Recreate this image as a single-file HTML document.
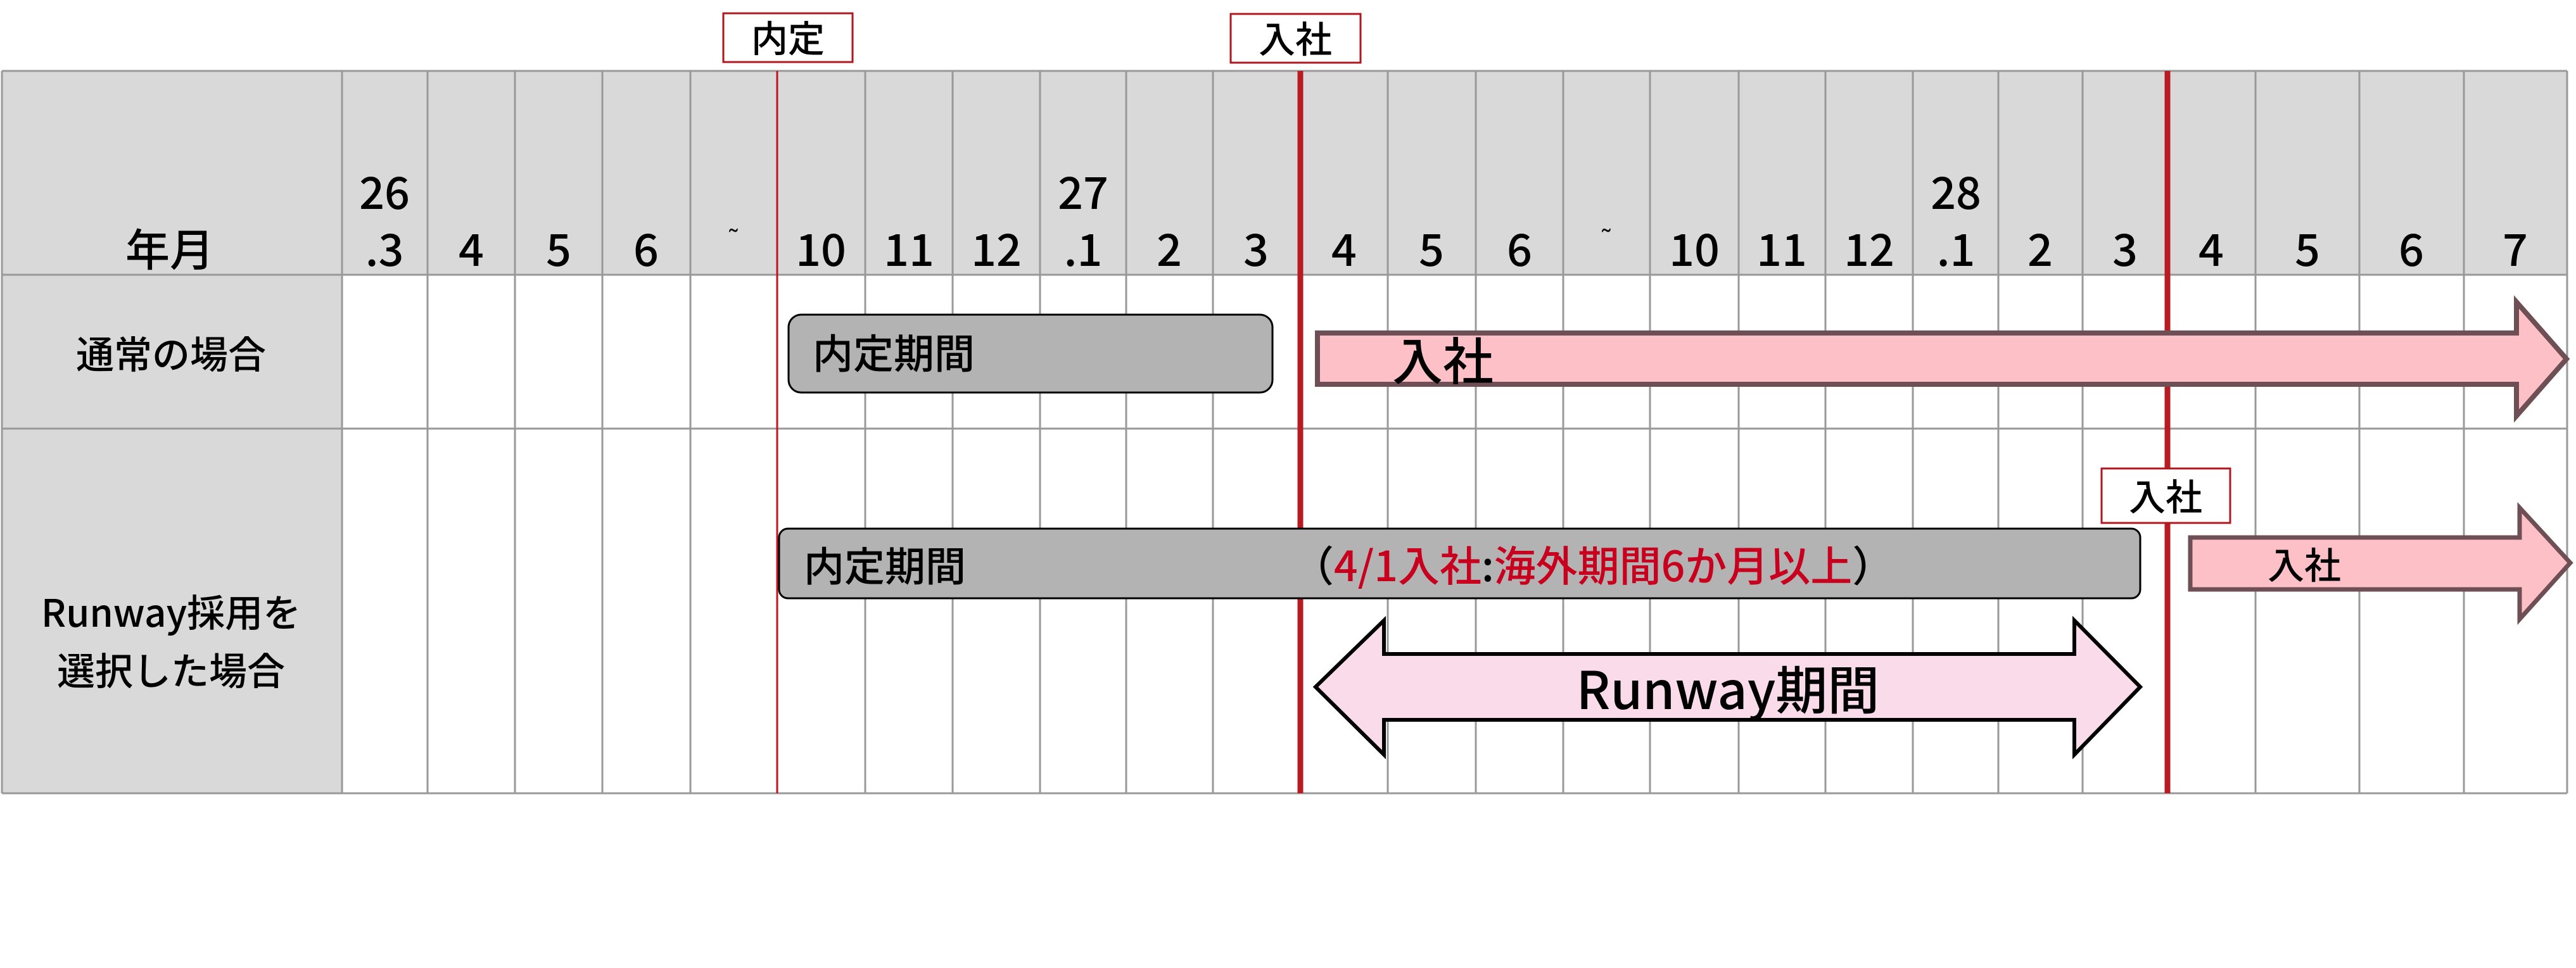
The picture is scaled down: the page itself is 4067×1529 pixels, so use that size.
<!DOCTYPE html>
<html><head><meta charset="utf-8"><style>
html,body{margin:0;padding:0;background:#fff;}
svg{display:block;}
text{font-family:"Noto Sans CJK JP","Liberation Sans",sans-serif;font-weight:500;}
</style></head><body>
<svg width="4067" height="1529" viewBox="0 0 4067 1529" xmlns="http://www.w3.org/2000/svg">
<rect x="0" y="0" width="4067" height="1529" fill="#fff"/>
<rect x="3" y="112" width="4050" height="322" fill="#d9d9d9"/>
<rect x="3" y="434" width="537" height="819" fill="#d9d9d9"/>
<g stroke="#999" stroke-width="3" fill="none">
<line x1="3" y1="112" x2="4053" y2="112"/>
<line x1="3" y1="434" x2="4053" y2="434"/>
<line x1="3" y1="677" x2="4053" y2="677"/>
<line x1="3" y1="1253" x2="4053" y2="1253"/>
<line x1="3" y1="112" x2="3" y2="1253"/>
<line x1="540" y1="112" x2="540" y2="1253"/>
<line x1="675" y1="112" x2="675" y2="1253"/>
<line x1="813" y1="112" x2="813" y2="1253"/>
<line x1="951" y1="112" x2="951" y2="1253"/>
<line x1="1090" y1="112" x2="1090" y2="1253"/>
<line x1="1366" y1="112" x2="1366" y2="1253"/>
<line x1="1504" y1="112" x2="1504" y2="1253"/>
<line x1="1642" y1="112" x2="1642" y2="1253"/>
<line x1="1778" y1="112" x2="1778" y2="1253"/>
<line x1="1915" y1="112" x2="1915" y2="1253"/>
<line x1="2191" y1="112" x2="2191" y2="1253"/>
<line x1="2330" y1="112" x2="2330" y2="1253"/>
<line x1="2468" y1="112" x2="2468" y2="1253"/>
<line x1="2605" y1="112" x2="2605" y2="1253"/>
<line x1="2745" y1="112" x2="2745" y2="1253"/>
<line x1="2882" y1="112" x2="2882" y2="1253"/>
<line x1="3020" y1="112" x2="3020" y2="1253"/>
<line x1="3155" y1="112" x2="3155" y2="1253"/>
<line x1="3288" y1="112" x2="3288" y2="1253"/>
<line x1="3561" y1="112" x2="3561" y2="1253"/>
<line x1="3725" y1="112" x2="3725" y2="1253"/>
<line x1="3890" y1="112" x2="3890" y2="1253"/>
<line x1="4053" y1="112" x2="4053" y2="1253"/>
</g>
<line x1="1227" y1="112" x2="1227" y2="1253" stroke="#c0141e" stroke-width="3"/>
<line x1="2053" y1="112" x2="2053" y2="1253" stroke="#b81c22" stroke-width="9"/>
<line x1="3422" y1="112" x2="3422" y2="1253" stroke="#b81c22" stroke-width="9"/>

<g font-size="70" fill="#000" text-anchor="middle">
<text x="268" y="420" font-weight="700">年月</text>
<text x="607" y="330">26</text>
<text x="607" y="420">.3</text>
<text x="744" y="420">4</text>
<text x="882" y="420">5</text>
<text x="1020" y="420">6</text>
<text x="1158" y="390" font-size="40">˜</text>
<text x="1296" y="420">10</text>
<text x="1435" y="420">11</text>
<text x="1573" y="420">12</text>
<text x="1710" y="330">27</text>
<text x="1710" y="420">.1</text>
<text x="1846" y="420">2</text>
<text x="1983" y="420">3</text>
<text x="2122" y="420">4</text>
<text x="2260" y="420">5</text>
<text x="2399" y="420">6</text>
<text x="2536" y="390" font-size="40">˜</text>
<text x="2675" y="420">10</text>
<text x="2813" y="420">11</text>
<text x="2951" y="420">12</text>
<text x="3088" y="330">28</text>
<text x="3088" y="420">.1</text>
<text x="3221" y="420">2</text>
<text x="3355" y="420">3</text>
<text x="3491" y="420">4</text>
<text x="3643" y="420">5</text>
<text x="3807" y="420">6</text>
<text x="3971" y="420">7</text>
</g>
<g font-size="60" fill="#000" text-anchor="middle" font-weight="700">
<text x="270" y="582">通常の場合</text>
<text x="270" y="990">Runway採用を</text>
<text x="270" y="1082">選択した場合</text>
</g>

<rect x="1142" y="21" width="204" height="77" fill="#fff" stroke="#b0161e" stroke-width="3"/>
<text x="1244" y="82" font-size="58" text-anchor="middle" font-weight="700">内定</text>
<rect x="1943" y="22" width="205" height="77" fill="#fff" stroke="#b0161e" stroke-width="3"/>
<text x="2045" y="83" font-size="58" text-anchor="middle" font-weight="700">入社</text>

<rect x="1245" y="497" width="764" height="123" rx="20" fill="#b3b3b3" stroke="#000" stroke-width="3"/>
<text x="1283" y="582" font-size="64">内定期間</text>
<polygon points="2080,526 3973,526 3973,477 4052,567 3973,657 3973,607 2080,607" fill="#fcc0c6" stroke="#6e4f55" stroke-width="8"/>
<text x="2198" y="600" font-size="80" font-weight="700">入社</text>

<rect x="1230" y="835" width="2149" height="110" rx="14" fill="#b3b3b3" stroke="#000" stroke-width="3"/>
<text x="1269" y="918" font-size="64">内定期間</text>
<text x="2040" y="918" font-size="66" fill="#c8001e"><tspan fill="#000">（</tspan>4/1入社<tspan fill="#000">:</tspan>海外期間6か月以上<tspan fill="#000">）</tspan></text>
<rect x="3318" y="740" width="203" height="86" fill="#fff" stroke="#b0161e" stroke-width="3"/>
<text x="3419" y="806" font-size="58" text-anchor="middle" font-weight="700">入社</text>
<polygon points="3458,849 3978,849 3978,802 4058,889 3978,978 3978,931 3458,931" fill="#fcc0c6" stroke="#6e4f55" stroke-width="7"/>
<text x="3580" y="914" font-size="58" font-weight="700">入社</text>

<polygon points="2077,1085 2185,980 2185,1033 3275,1033 3275,980 3379,1085 3275,1192 3275,1137 2185,1137 2185,1192" fill="#fadbe9" stroke="#000" stroke-width="6"/>
<text x="2728" y="1120" font-size="82" text-anchor="middle">Runway期間</text>
</svg>
</body></html>
